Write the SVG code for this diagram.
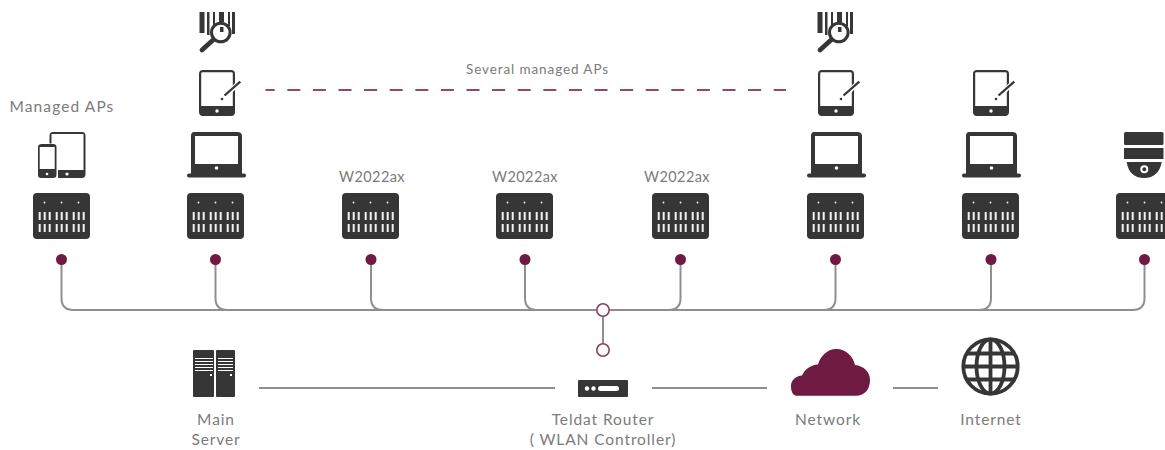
<svg xmlns="http://www.w3.org/2000/svg" width="1165" height="450" viewBox="0 0 1165 450">
<style>
text{font-family:"Lato","Noto Sans",sans-serif;font-size:15.5px;fill:#7b7b7b;text-anchor:middle;letter-spacing:.9px}
.m{font-size:14.5px;letter-spacing:.4px}
.c{fill:none;stroke:#8f8f8f;stroke-width:2}
.d{fill:#6f1a41}
.h{fill:#fff;stroke:#8d3f62;stroke-width:1.6}
.k{fill:#363636}
.w{fill:#fff}
</style>
<defs>
<symbol id="ap" width="58" height="47" viewBox="0 0 58 47" overflow="visible">
<rect class="k" width="57" height="46" rx="4"/>
<g fill="#f2f2f2"><circle cx="11.500" cy="9.500" r=".9"/><circle cx="28.500" cy="9.500" r=".9"/><circle cx="45.500" cy="9.500" r=".9"/>
<path d="M5.700 19h2v8h-2zM10.700 19h2v8h-2zM15.700 19h2v8h-2zM22.700 19h2v8h-2zM27.700 19h2v8h-2zM32.700 19h2v8h-2zM39.700 19h2v8h-2zM44.700 19h2v8h-2zM49.700 19h2v8h-2zM5.700 31h2v8h-2zM10.700 31h2v8h-2zM15.700 31h2v8h-2zM22.700 31h2v8h-2zM27.700 31h2v8h-2zM32.700 31h2v8h-2zM39.700 31h2v8h-2zM44.700 31h2v8h-2zM49.700 31h2v8h-2z"/></g>
</symbol>
<symbol id="laptop" width="60" height="47" viewBox="0 0 60 47" overflow="visible">
<path class="k" d="M7 0H50Q55 0 55 4V42H4V4Q4 0 7 0ZM8 4V32H51V4Z" fill-rule="evenodd"/>
<rect class="k" y="41.500" width="59" height="4" rx="2"/><circle class="w" cx="29.500" cy="36" r="1.800"/>
</symbol>
<symbol id="tablet" width="42" height="47" viewBox="0 0 42 47" overflow="visible">
<path class="k" d="M4 0H32Q36 0 36 4V42Q36 46 32 46H4Q0 46 0 42V4Q0 0 4 0ZM2.200 3Q2.200 2.200 3.500 2.200H32.500Q33.800 2.200 33.800 3.500V36H2.200Z" fill-rule="evenodd"/>
<circle class="w" cx="18" cy="41" r="1.700"/>
<path fill="none" stroke="#fff" stroke-width="4.500" d="M29 24L41 11"/>
<path fill="none" stroke="#363636" stroke-width="2.300" d="M25.500 25.500L41.300 11.700"/><circle class="k" cx="23" cy="29" r="1.300"/>
</symbol>
<symbol id="scan" width="40" height="44" viewBox="0 0 40 44" overflow="visible">
<path class="k" d="M.5 0h5v21h-5zM8 0h2.500v23H8zM14 0h2v14h-2zM20 0h5v10h-5zM29 0h2v14h-2zM33 0h3v22h-3z"/>
<circle cx="21.800" cy="20.500" r="9.300" fill="#fff" stroke="#363636" stroke-width="3"/>
<path class="k" d="M21 15h3.500v5H21z"/>
<path fill="none" stroke="#363636" stroke-width="4.800" stroke-linecap="round" d="M14 28L3 38"/>
</symbol>
</defs>
<g id="connectors">
<path class="c" d="M61.500 259V298Q61.500 310 73.500 310H1132.500Q1144.500 310 1144.500 298V259"/>
<path class="c" d="M215.500 259V298Q215.500 310 227.500 310M371 259V298Q371 310 383 310M525 259V298Q525 310 537 310M680.500 259V298Q680.500 310 668.500 310M835.500 259V298Q835.500 310 823.500 310M991 259V298Q991 310 979 310"/>
<path class="c" d="M603 310V350M259 388H555M652 388H767M893 388H938"/>
<path fill="none" stroke="#8f4a6c" stroke-width="2" stroke-dasharray="13 12.600" stroke-dashoffset="3.800" d="M265.500 90H786"/>
</g>
<g id="dots">
<circle class="d" cx="61.500" cy="259.500" r="5.500"/><circle class="d" cx="215.500" cy="259.500" r="5.500"/><circle class="d" cx="371" cy="259.500" r="5.500"/><circle class="d" cx="525" cy="259.500" r="5.500"/><circle class="d" cx="680.500" cy="259.500" r="5.500"/><circle class="d" cx="835.500" cy="259.500" r="5.500"/><circle class="d" cx="991" cy="259.500" r="5.500"/><circle class="d" cx="1144.500" cy="259.500" r="5.500"/>
<circle class="h" cx="603" cy="310" r="6.200"/><circle class="h" cx="603" cy="350" r="6.200"/>
</g>
<g id="ap1"><use href="#ap" x="33" y="193"/>
<path class="k" fill-rule="evenodd" d="M53 132H82Q85.500 132 85.500 136V174Q85.500 178 82 178H58V170H83.500V134H51.500V143.500H49.500V136Q49.500 132 53 132Z"/>
<circle class="w" cx="67" cy="174" r="1.600"/>
<path class="k" fill-rule="evenodd" d="M42 144H53Q56.500 144 56.500 147V175Q56.500 178 53 178H41Q38 178 38 175V147Q38 144 42 144ZM39.700 147V169H54.700V147Z"/>
<circle class="w" cx="47" cy="174" r="1.300"/>
<text x="62" y="112" style="letter-spacing:1.100px">Managed APs</text></g>
<g id="ap2"><use href="#ap" x="187" y="193"/><use href="#laptop" x="187" y="132"/><use href="#tablet" x="199" y="70"/><use href="#scan" x="199" y="12"/></g>
<g id="ap3"><use href="#ap" x="342" y="193"/><text class="m" x="372" y="182">W2022ax</text></g>
<g id="ap4"><use href="#ap" x="496" y="193"/><text class="m" x="525" y="182">W2022ax</text></g>
<g id="ap5"><use href="#ap" x="652" y="193"/><text class="m" x="677" y="182">W2022ax</text></g>
<g id="ap6"><use href="#ap" x="807" y="193"/><use href="#laptop" x="807" y="132"/><use href="#tablet" x="818" y="70"/><use href="#scan" x="817" y="12"/></g>
<g id="ap7"><use href="#ap" x="962" y="193"/><use href="#laptop" x="962" y="132"/><use href="#tablet" x="973" y="70"/></g>
<g id="ap8"><use href="#ap" x="1116" y="193"/>
<rect class="k" x="1124" y="132" width="39.500" height="13" rx="1.500"/><rect class="k" x="1124" y="148" width="39.500" height="11"/>
<path class="k" d="M1126.700 162H1161.700C1160 172 1154 178 1144.200 178C1134 178 1128 172 1126.700 162Z"/>
<circle cx="1144.300" cy="169.300" r="3" fill="#363636" stroke="#fff" stroke-width="2"/></g>
<text id="several" x="537.500" y="74" style="font-size:13.500px">Several managed APs</text>
<g id="server">
<rect class="k" x="193" y="350" width="21" height="47" rx="1"/><rect class="k" x="216" y="350" width="19" height="47" rx="1"/>
<path class="w" d="M195 358h18v1h-18zM195 361h18v1h-18zM195 364h18v1h-18zM195 367h18v1h-18zM195 370h18v1h-18zM218 358h15v1h-15zM218 361h15v1h-15zM218 364h15v1h-15zM218 367h15v1h-15zM218 370h15v1h-15zM210 374h2v2h-2zM230 374h2v2h-2z"/>
<text x="216" y="425">Main</text><text x="216" y="445">Server</text></g>
<g id="router"><rect class="k" x="578" y="380" width="50" height="17" rx="1"/>
<circle class="w" cx="587" cy="388.500" r="2.200"/><circle class="w" cx="593.500" cy="388.500" r="2.200"/><rect class="w" x="598" y="386" width="21" height="5" rx="2.500"/>
<text x="603" y="425">Teldat Router</text><text x="603" y="445">( WLAN Controller)</text></g>
<g id="network"><path class="d" d="M797 395.700C792 395.700 791 390 791 386C791 380 796 376 802 375.500C805 369 811 365 818 364.500C821 355 828 349 836 349C846 349 853 356 855 365C864 366 870 372 870 380C870 389 865 395.700 856 395.700Z"/>
<text x="828" y="425">Network</text></g>
<g id="internet"><g fill="none" stroke="#363636" stroke-width="3.800"><circle cx="990.500" cy="366.500" r="27.200"/><ellipse cx="990.500" cy="366.500" rx="14" ry="27.200"/><path d="M990.500 339V394M963 366.500H1018M967 353.500H1014M967 379.500H1014"/></g>
<text x="991" y="425">Internet</text></g>
</svg>
